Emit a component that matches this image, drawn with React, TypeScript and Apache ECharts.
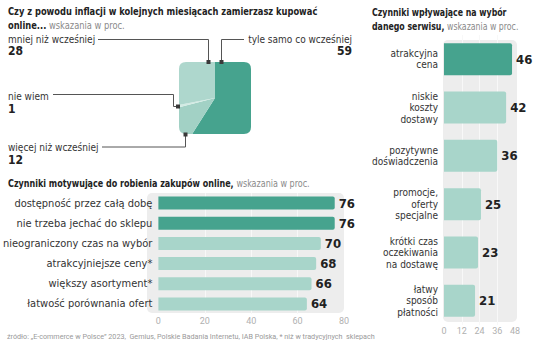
import React, { useEffect, useRef } from "react";
import * as echarts from "echarts";

// ---------- data ----------
const pieNames = ["tyle samo co wcześniej", "więcej niż wcześniej", "nie wiem", "mniej niż wcześniej"];
const pieValues = [59, 12, 1, 28];

const motivCategories = [
  "dostępność przez całą dobę",
  "nie trzeba jechać do sklepu",
  "nieograniczony czas na wybór",
  "atrakcyjniejsze ceny*",
  "większy asortyment*",
  "łatwość porównania ofert",
];
const motivValues = [76, 76, 70, 68, 66, 64];
const motivTicks = [0, 20, 40, 60, 80];

const serviceCategories = [
  "atrakcyjna\ncena",
  "niskie\nkoszty\ndostawy",
  "pozytywne\ndoświadczenia",
  "promocje,\noferty\nspecjalne",
  "krótki czas\noczekiwania\nna dostawę",
  "łatwy\nsposób\npłatności",
];
const serviceValues = [46, 42, 36, 25, 23, 21];
const serviceTicks = [0, 12, 24, 36, 48];

// ---------- style ----------
const DARK = "#46a38e";
const LIGHT = "#a8d5ca";
const PANEL = "#ededed";
const NARROW = "'Liberation Sans Narrow', 'DejaVu Sans Condensed', 'Roboto Condensed', Roboto, sans-serif";
const SANS = "Roboto, 'Noto Sans', sans-serif";

const MASK_D =
  "M0 0 L110 0 L110 110 L0 110 Z " +
  "M26 19 Q19 19 19 26 L19 84 Q19 91 26 91 L84 91 Q91 91 91 84 L91 26 Q91 19 84 19 Z";
echarts.graphic.registerShape("pieMask", echarts.graphic.extendPath(MASK_D, {}));

function txt(x: number, y: number, text: string, size: number, weight: string, color: string, align = "left", family = NARROW) {
  return {
    type: "text",
    z: 120,
    silent: true,
    style: { x, y, text, fontSize: size, fontWeight: weight, fontFamily: family, fill: color, align, verticalAlign: "middle" },
  };
}
function richTxt(x: number, y: number, bold: string, light: string, size: number, sx: number) {
  return {
    type: "text",
    z: 120,
    silent: true,
    x,
    y,
    scaleX: sx,
    style: {
      x: 0,
      y: 0,
      verticalAlign: "middle",
      text: light ? `{b|${bold}}{l|${light}}` : `{b|${bold}}`,
      rich: {
        b: { fontSize: size, fontWeight: "bold", fontFamily: NARROW, fill: "#222", color: "#222" },
        l: { fontSize: size, fontWeight: "normal", fontFamily: NARROW, fill: "#8a8a8a", color: "#8a8a8a" },
      },
    },
  };
}
function leader(points: number[][]) {
  return { type: "polyline", z: 115, silent: true, shape: { points }, style: { stroke: "#555", lineWidth: 1, fill: null } };
}
function dot(x: number, y: number) {
  return { type: "rect", z: 116, silent: true, shape: { x: x - 2, y: y - 2, width: 4, height: 4 }, style: { fill: "#3a3a3a" } };
}

export default function App() {
  const ref = useRef<HTMLDivElement>(null);
  useEffect(() => {
    if (!ref.current) return;
    const chart = echarts.init(ref.current, undefined, { renderer: "svg" });
    const pieColors = [DARK, "#a2d1c5", "#d3ebe4", "#aed7cd"];
    const valueLabel = {
      show: true,
      position: "right",
      distance: 4,
      color: "#222",
      fontSize: 13,
      fontWeight: "bold",
      fontFamily: NARROW,
    };
    const option: any = {
      animation: false,
      backgroundColor: "#ffffff",
      grid: [
        { left: 149, top: 193, width: 195, height: 121 },
        { left: 444, top: 35, width: 71, height: 290 },
      ],
      xAxis: [
        {
          gridIndex: 0,
          type: "value",
          min: motivTicks[0],
          max: motivTicks[motivTicks.length - 1],
          interval: motivTicks[1] - motivTicks[0],
          axisLine: { show: false },
          axisTick: { show: false },
          axisLabel: { color: "#b0b0b0", fontSize: 9, fontFamily: SANS, margin: 2 },
          splitLine: { show: true, showMinLine: false, showMaxLine: false, lineStyle: { color: "#f8f8f8", width: 1 } },
        },
        {
          gridIndex: 1,
          type: "value",
          min: serviceTicks[0],
          max: serviceTicks[serviceTicks.length - 1],
          interval: serviceTicks[1] - serviceTicks[0],
          axisLine: { show: false },
          axisTick: { show: false },
          axisLabel: { color: "#b0b0b0", fontSize: 9, fontFamily: SANS, margin: 1 },
          splitLine: { show: true, showMinLine: false, showMaxLine: false, lineStyle: { color: "#f8f8f8", width: 1 } },
        },
      ],
      yAxis: [
        {
          gridIndex: 0,
          type: "category",
          inverse: true,
          data: motivCategories,
          axisLine: { show: false },
          axisTick: { show: false },
          axisLabel: { color: "#333", fontSize: 11, fontFamily: NARROW, margin: 6 },
        },
        {
          gridIndex: 1,
          type: "category",
          inverse: true,
          data: serviceCategories,
          axisLine: { show: false },
          axisTick: { show: false },
          axisLabel: { color: "#333", fontSize: 10, fontFamily: NARROW, margin: 6, align: "right", lineHeight: 11.5 },
        },
      ],
      series: [
        {
          type: "pie",
          silent: true,
          center: [215, 98],
          radius: [0, 53],
          startAngle: 90,
          clockwise: true,
          label: { show: false },
          labelLine: { show: false },
          itemStyle: { borderWidth: 0 },
          data: pieNames.map((n, i) => ({ name: n, value: pieValues[i], itemStyle: { color: pieColors[i] } })),
        },
        {
          type: "bar",
          xAxisIndex: 0,
          yAxisIndex: 0,
          barWidth: 13,
          silent: true,
          data: motivValues.map((v, i) => ({ value: v, itemStyle: { color: i < 2 ? DARK : LIGHT } })),
          itemStyle: { borderRadius: [0, 2, 2, 0] },
          label: valueLabel,
        },
        {
          type: "bar",
          xAxisIndex: 1,
          yAxisIndex: 1,
          barWidth: 32,
          silent: true,
          data: serviceValues.map((v, i) => ({ value: v, itemStyle: { color: i < 1 ? DARK : LIGHT } })),
          itemStyle: { borderRadius: [0, 2, 2, 0] },
          label: valueLabel,
        },
      ],
      graphic: [
        { type: "rect", z: -1, silent: true, shape: { x: 147, y: 193, width: 197, height: 120, r: 5 }, style: { fill: PANEL } },
        { type: "rect", z: -1, silent: true, shape: { x: 443, y: 40, width: 74, height: 282, r: 5 }, style: { fill: PANEL } },
        { type: "pieMask", z: 100, silent: true, x: 160, y: 43, style: { fill: "#ffffff" } },
        richTxt(8, 11, "Czy z powodu inflacji w kolejnych miesiącach zamierzasz kupować", "", 10.5, 0.88),
        richTxt(8, 25, "online...", " wskazania w proc.", 10.5, 0.88),
        txt(8, 39, "mniej niż wcześniej", 10, "normal", "#333"),
        txt(8, 51, "28", 12, "bold", "#222"),
        txt(352, 39, "tyle samo co wcześniej", 10, "normal", "#333", "right"),
        txt(352, 51, "59", 12, "bold", "#222", "right"),
        txt(8, 96, "nie wiem", 10, "normal", "#333"),
        txt(8, 109, "1", 12, "bold", "#222"),
        txt(8, 147, "więcej niż wcześniej", 10, "normal", "#333"),
        txt(8, 160, "12", 12, "bold", "#222"),
        leader([[98, 39.5], [208.5, 39.5], [208.5, 62]]),
        dot(208.5, 62),
        leader([[244, 39.5], [221.5, 39.5], [221.5, 62]]),
        dot(221.5, 62),
        leader([[53, 94.5], [173.5, 94.5], [173.5, 106.5], [178, 106.5]]),
        dot(178, 106.5),
        leader([[102, 147], [185.5, 147], [185.5, 134.5]]),
        dot(185.5, 134.5),
        richTxt(8, 183, "Czynniki motywujące do robienia zakupów online,", " wskazania w proc.", 10.5, 0.85),
        richTxt(372, 12, "Czynniki wpływające na wybór", "", 10.5, 0.83),
        richTxt(372, 26, "danego serwisu,", " wskazania w proc.", 10.5, 0.83),
        txt(7, 336, "źródło: „E-commerce w Polsce” 2023,  Gemius, Polskie Badania Internetu, IAB Polska, * niż w tradycyjnych  sklepach", 7.2, "normal", "#999", "left", SANS),
      ],
    };
    chart.setOption(option);
    return () => chart.dispose();
  }, []);
  return <div ref={ref} style={{ position: "absolute", left: 0, top: 0, width: 536, height: 344 }} />;
}
